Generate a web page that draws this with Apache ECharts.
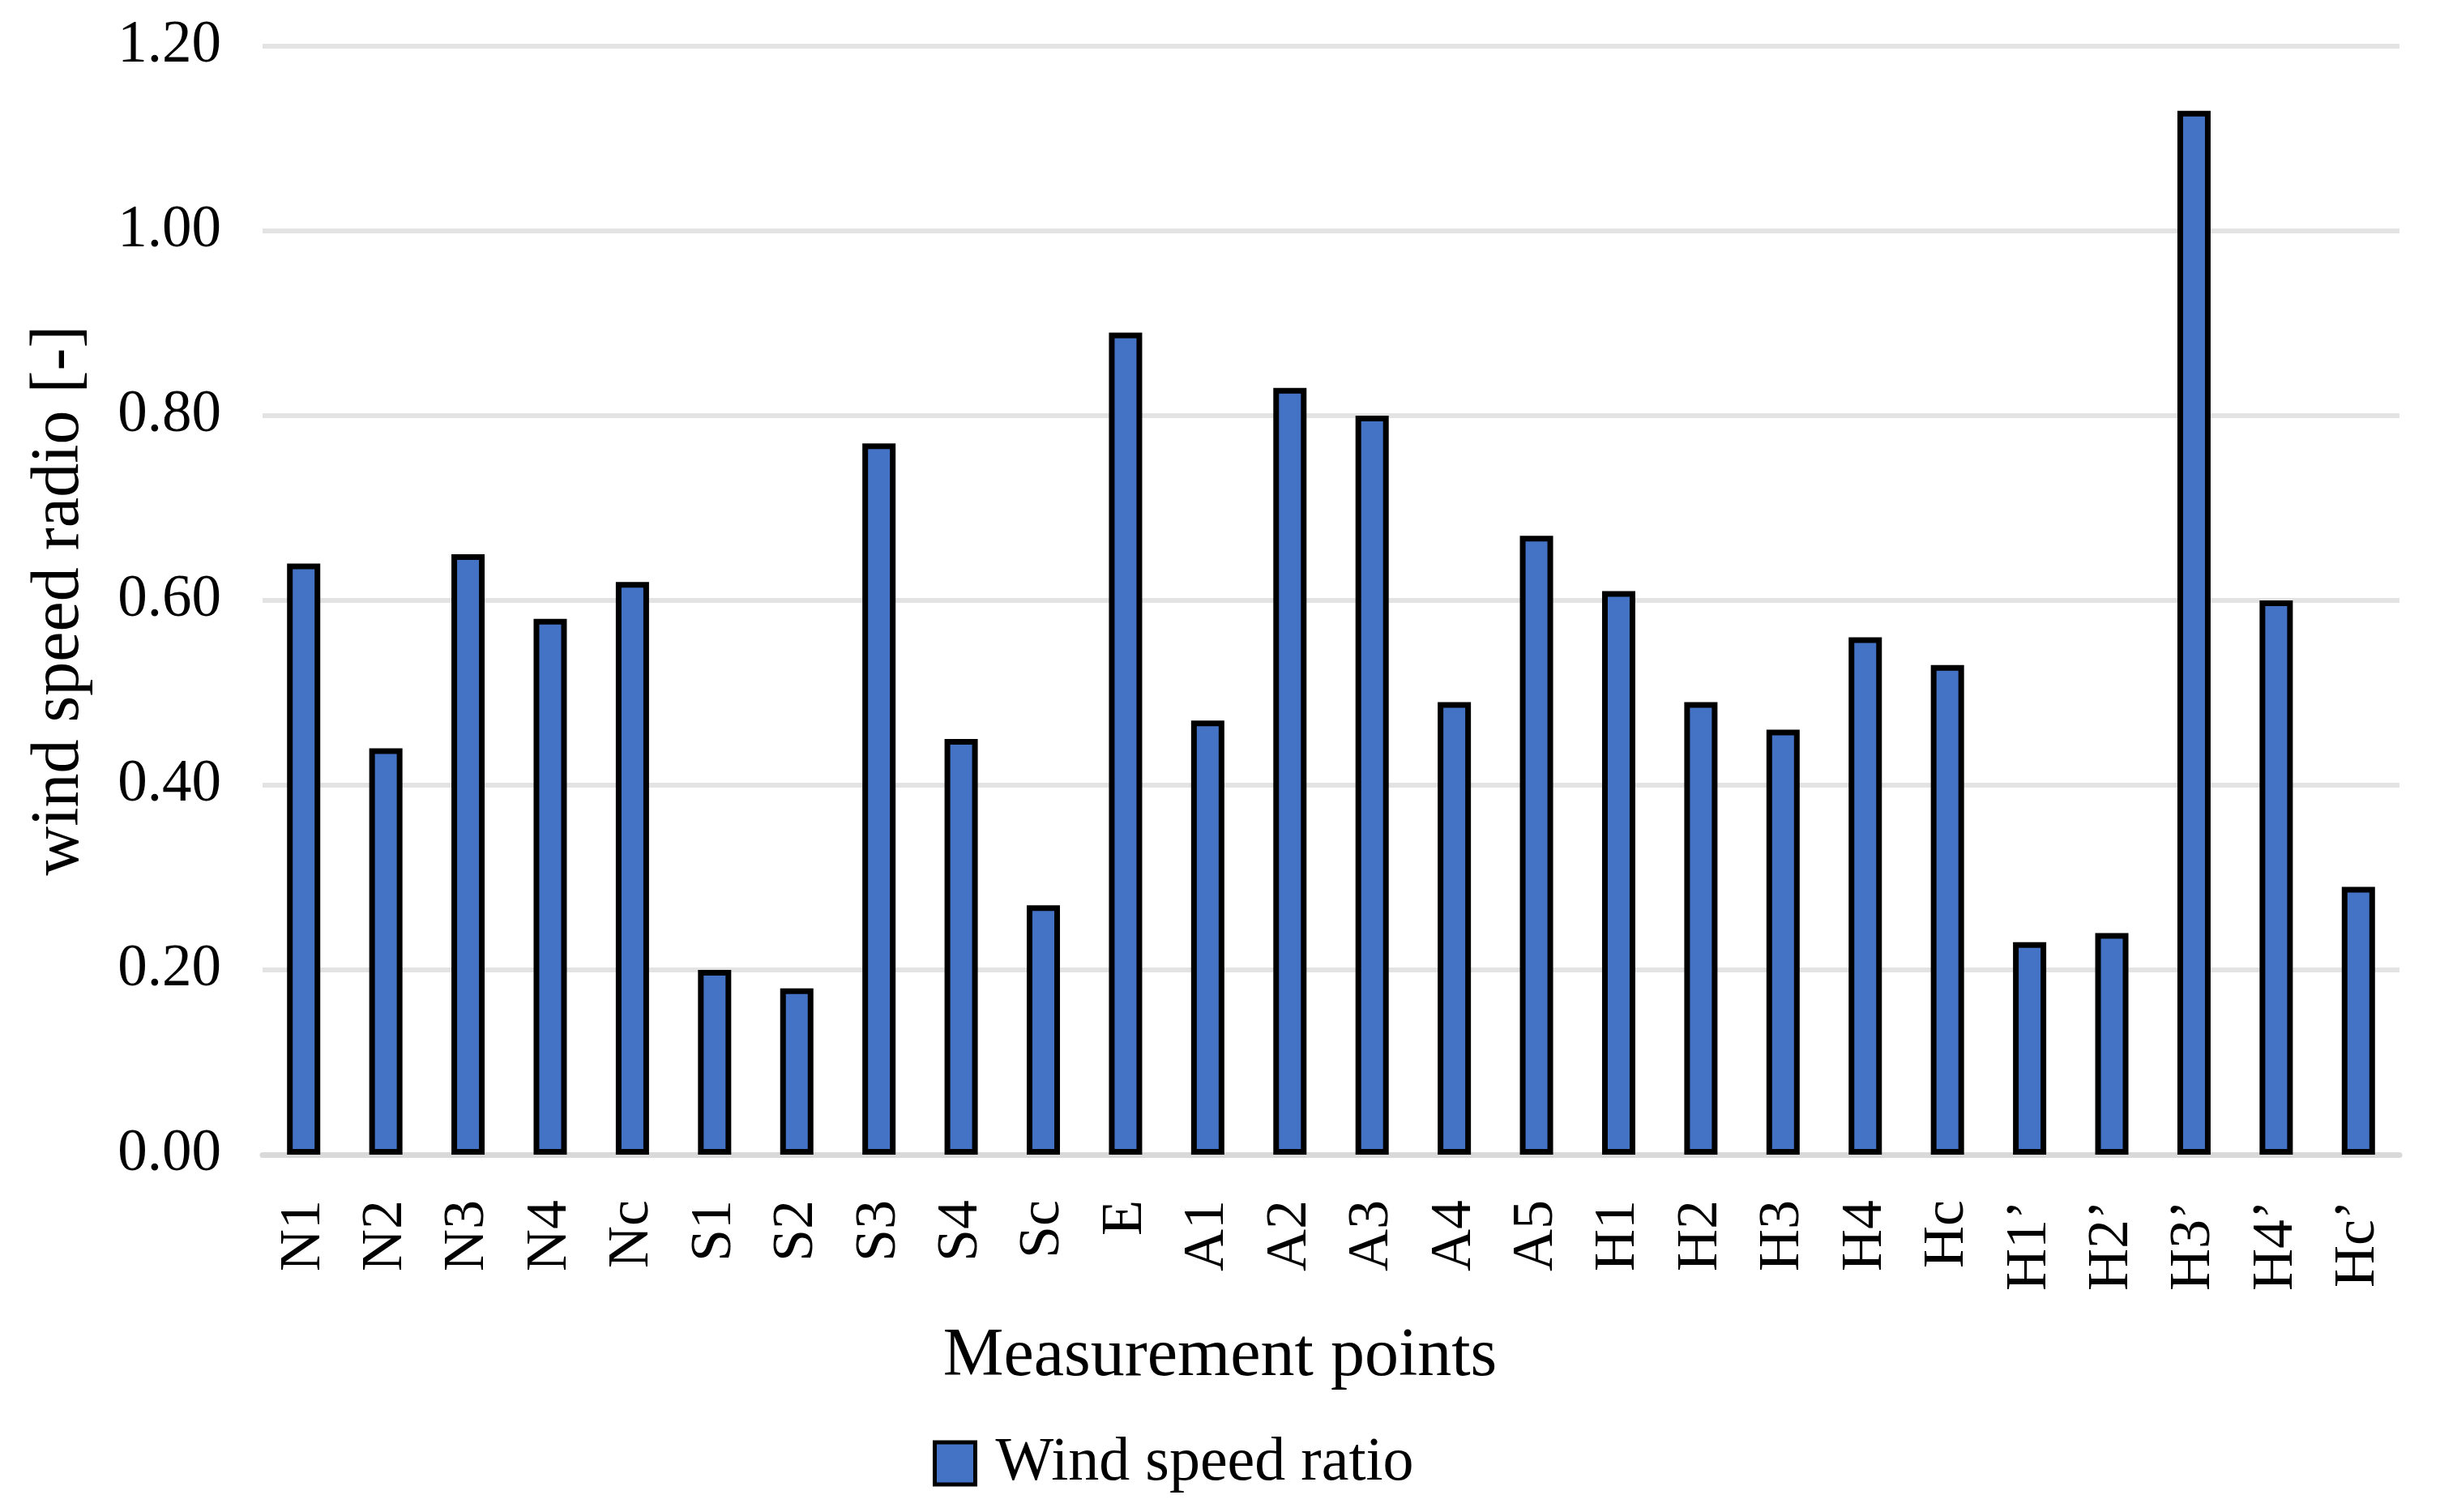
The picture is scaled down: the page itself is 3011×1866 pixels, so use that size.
<!DOCTYPE html>
<html>
<head>
<meta charset="utf-8">
<script src="https://cdn.jsdelivr.net/npm/echarts@6/dist/echarts.min.js"></script>
<style>html,body{margin:0;padding:0;background:#fff;}#c{width:3011px;height:1866px;}</style>
</head>
<body>
<div id="c"></div>
<script>
const categories = ["N1","N2","N3","N4","Nc","S1","S2","S3","S4","Sc","E","A1","A2","A3","A4","A5","H1","H2","H3","H4","Hc","H1\u2019","H2\u2019","H3\u2019","H4\u2019","Hc\u2019"];
const windSpeedRatio = [0.64,0.44,0.65,0.58,0.62,0.20,0.18,0.77,0.45,0.27,0.89,0.47,0.83,0.80,0.49,0.67,0.61,0.49,0.46,0.56,0.53,0.23,0.24,1.13,0.60,0.29];
const seriesName = "Wind speed ratio";
const yAxisTitle = "wind speed radio [-]";
const xAxisTitle = "Measurement points";

const FONT = '"Liberation Serif","Times New Roman",serif';
const chart = echarts.init(document.getElementById('c'), null, {renderer:'canvas'});
chart.setOption({
  animation: false,
  backgroundColor: '#ffffff',
  title: {
    text: xAxisTitle,
    left: 'center',
    top: 1628,
    textStyle: {fontFamily: FONT, fontSize: 84, fontWeight: 'normal', color: '#000'}
  },
  legend: {
    data: [seriesName],
    left: 1146,
    top: 1763,
    itemWidth: 50,
    itemHeight: 52,
    icon: 'rect',
    itemStyle: {borderColor: '#000', borderWidth: 5},
    textStyle: {fontFamily: FONT, fontSize: 76, color: '#000', padding: [0,0,0,20]}
  },
  grid: {left: 324, right: 50, top: 57, bottom: 441, containLabel: false},
  xAxis: {
    type: 'category',
    data: categories,
    axisLine: {lineStyle: {color: '#d9d9d9', width: 7}},
    axisTick: {show: false},
    axisLabel: {interval: 0, rotate: 90, margin: 56, fontFamily: FONT, fontSize: 72, color: '#000'}
  },
  yAxis: {
    type: 'value',
    min: 0, max: 1.2, interval: 0.2,
    name: yAxisTitle,
    nameLocation: 'middle',
    nameGap: 208,
    nameTextStyle: {fontFamily: FONT, fontSize: 84, color: '#000'},
    axisLine: {show: false},
    axisTick: {show: false},
    axisLabel: {margin: 51, fontFamily: FONT, fontSize: 73, color: '#000', formatter: v => v.toFixed(2)},
    splitLine: {lineStyle: {color: '#e3e3e3', width: 6}}
  },
  series: [{
    name: seriesName,
    type: 'bar',
    data: windSpeedRatio,
    barWidth: 41,
    itemStyle: {color: '#4472C4', borderColor: '#000', borderWidth: 7}
  }]
});
</script>
</body>
</html>
